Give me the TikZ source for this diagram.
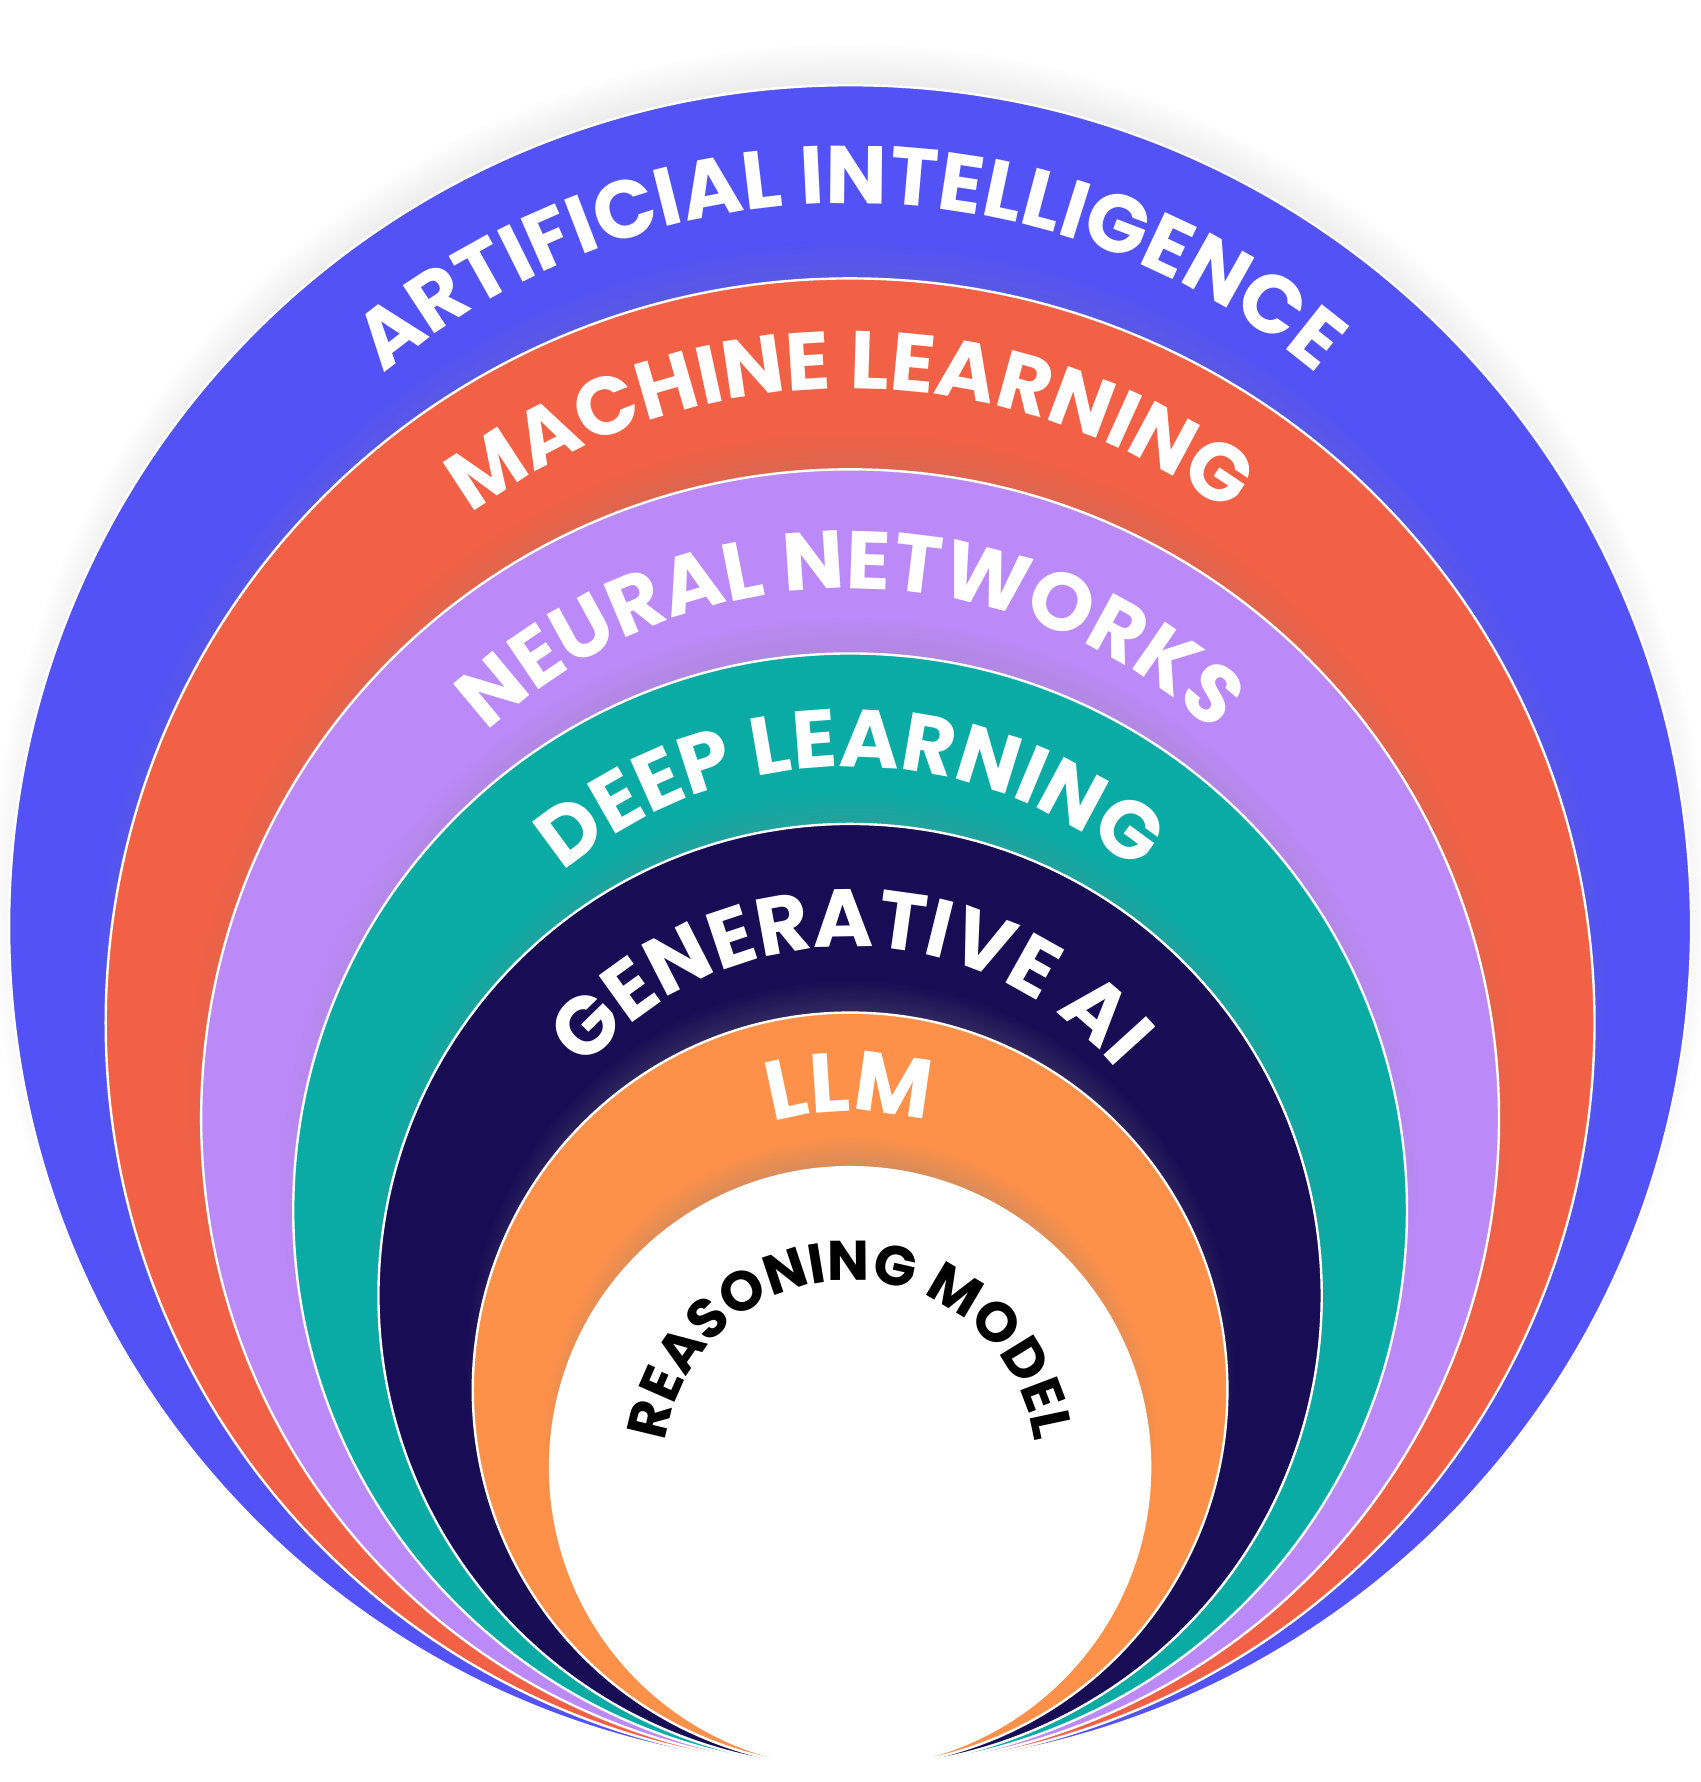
\documentclass[tikz,border=0pt]{standalone}
\usepackage{fontspec}
\newfontfamily\arcfont{Poppins}
\usetikzlibrary{decorations.text, shadows}

\definecolor{aiblue}{HTML}{5252F7}
\definecolor{mlred}{HTML}{F26145}
\definecolor{nnlilac}{HTML}{BC8AF8}
\definecolor{dlteal}{HTML}{0AABA5}
\definecolor{gennavy}{HTML}{180C54}
\definecolor{llmorange}{HTML}{FD914A}

\tikzset{
  ring/.style={draw=white, line width=0.6pt,
    circular drop shadow={shadow xshift=0pt, shadow yshift=6pt, shadow scale=1.02, opacity=0.45}},
  arclabel/.style={decorate, decoration={text along path, text align=center,
    text color=#1}}
}

\begin{document}
\begin{tikzpicture}
\useasboundingbox (0,0) rectangle (14.96,15.68);

% nested rings, outer to inner
\foreach \cy/\r/\col in {7.53/7.40/aiblue, 6.68/6.55/mlred, 5.84/5.71/nnlilac,
    5.03/4.90/dlteal, 4.28/4.15/gennavy, 3.45/3.32/llmorange, 2.77/2.64/white}
  \fill[\col, ring] (7.48,\cy) circle (\r);

% labels along the arcs
\foreach \cy/\r/\sz/\col/\txt in {
    7.53/6.36/20.5/white/ARTIFICIAL INTELLIGENCE,
    6.68/5.58/20.5/white/MACHINE LEARNING,
    5.84/4.66/20.5/white/NEURAL NETWORKS,
    5.03/3.90/20.5/white/DEEP LEARNING,
    4.28/3.07/20.5/white/GENERATIVE AI,
    3.45/2.45/21/white/LLM,
    2.77/1.64/14/black/REASONING MODEL}
  \path[arclabel=\col, decoration={text={|\arcfont\bfseries\fontsize{\sz}{\sz}\selectfont|\txt}}]
    (7.48,\cy) ++(210:\r) arc[start angle=210, end angle=-30, radius=\r];
\end{tikzpicture}
\end{document}
